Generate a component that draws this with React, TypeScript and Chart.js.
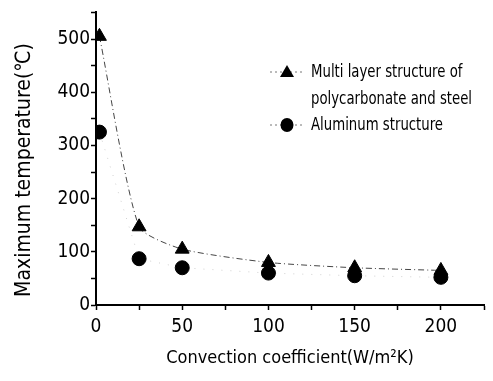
import React, { useEffect, useRef } from "react";
import { Chart, registerables } from "chart.js";

Chart.register(...registerables);

const convection = [2, 25, 50, 100, 150, 200];
const multiLayer = [505, 147, 105, 80, 70, 65];
const aluminum = [325, 87, 70, 60, 55, 52];
const seriesLabels = ["Multi layer structure of|polycarbonate and steel", "Aluminum structure"];
const xTitle = "Convection coefficient(W/m²K)";
const yTitle = "Maximum temperature(℃)";

const FONT = "'DejaVu Sans Condensed', 'Liberation Sans Narrow', sans-serif";

const overlayPlugin = {
  id: "overlay",
  afterDraw(chart: any) {
    const ctx = chart.ctx;
    ctx.save();
    // y-axis title
    ctx.save();
    ctx.translate(25, 170);
    ctx.rotate(-Math.PI / 2);
    ctx.font = `21px ${FONT}`;
    ctx.fillStyle = "#000";
    ctx.textAlign = "center";
    ctx.textBaseline = "middle";
    ctx.fillText(yTitle, 0, 0);
    ctx.restore();

    // legend
    const rows = [
      { y: 72, ds: 0 },
      { y: 125, ds: 1 },
    ];
    rows.forEach((r) => {
      const ds = chart.data.datasets[r.ds];
      ctx.strokeStyle = "#777";
      ctx.lineWidth = 1;
      ctx.setLineDash([2, 3]);
      ctx.beginPath();
      ctx.moveTo(270, r.y);
      ctx.lineTo(303, r.y);
      ctx.stroke();
      ctx.setLineDash([]);
      ctx.fillStyle = "#000";
      const cx = 287;
      if (ds.pointStyle === "triangle") {
        ctx.beginPath();
        ctx.moveTo(cx, r.y - 7);
        ctx.lineTo(cx + 7, r.y + 5);
        ctx.lineTo(cx - 7, r.y + 5);
        ctx.closePath();
        ctx.fill();
      } else {
        ctx.beginPath();
        ctx.ellipse(cx, r.y, 6.5, 7, 0, 0, Math.PI * 2);
        ctx.fill();
      }
      const lines = String(ds.label).split("|");
      lines.forEach((t: string, i: number) => {
        ctx.save();
        ctx.translate(311, r.y + i * 27);
        ctx.scale(0.82, 1);
        ctx.font = `18px ${FONT}`;
        ctx.textBaseline = "middle";
        ctx.textAlign = "left";
        ctx.fillText(t, 0, 0);
        ctx.restore();
      });
    });
    ctx.restore();
  },
};

export default function App() {
  const ref = useRef<HTMLCanvasElement>(null);
  useEffect(() => {
    document.body.style.margin = "0";
    const chart = new Chart(ref.current!, {
      type: "scatter",
      data: {
        datasets: [
          {
            label: seriesLabels[0],
            data: convection.map((x, i) => ({ x, y: multiLayer[i] })),
            showLine: true,
            borderColor: "#444",
            borderWidth: 1,
            borderDash: [6, 3, 1, 3],
            backgroundColor: "#000",
            pointBackgroundColor: "#000",
            pointBorderColor: "#000",
            pointStyle: "triangle",
            pointRadius: 8,
            tension: 0.2,
          },
          {
            label: seriesLabels[1],
            data: convection.map((x, i) => ({ x, y: aluminum[i] })),
            showLine: true,
            borderColor: "#d0d0d0",
            borderWidth: 1,
            borderDash: [1, 8],
            backgroundColor: "#000",
            pointBackgroundColor: "#000",
            pointBorderColor: "#000",
            pointStyle: "circle",
            pointRadius: 7,
          },
        ],
      },
      options: {
        animation: false,
        responsive: false,
        layout: { padding: { top: 6, right: 2, left: 10, bottom: 0 } },
        plugins: { legend: { display: false }, tooltip: { enabled: false } },
        scales: {
          x: {
            type: "linear",
            min: 0,
            max: 225,
            afterFit: (s: any) => {
              s.height = 76;
            },
            border: { color: "#000", width: 2 },
            grid: { drawOnChartArea: false, drawTicks: true, tickLength: 5, tickColor: "#000", tickWidth: 1.5 },
            ticks: {
              stepSize: 25,
              color: "#000",
              font: { family: FONT, size: 19 },
              padding: 6,
              maxRotation: 0,
              callback: (v: any) => (v % 50 === 0 && v <= 200 ? String(v) : ""),
            },
            title: { display: true, text: xTitle, color: "#000", font: { family: FONT, size: 18 }, padding: { top: 4, bottom: 12 } },
          },
          y: {
            min: 0,
            max: 550,
            afterFit: (s: any) => {
              s.width = 86;
            },
            border: { color: "#000", width: 2 },
            grid: { drawOnChartArea: false, drawTicks: true, tickLength: 5, tickColor: "#000", tickWidth: 1.5 },
            ticks: {
              stepSize: 50,
              color: "#000",
              font: { family: FONT, size: 19 },
              padding: 1,
              callback: (v: any) => (v % 100 === 0 && v <= 500 ? String(v) : ""),
            },
            title: { display: false, text: yTitle },
          },
        },
      },
      plugins: [overlayPlugin],
    });
    return () => chart.destroy();
  }, []);
  return <canvas ref={ref} width={493} height={381} />;
}
